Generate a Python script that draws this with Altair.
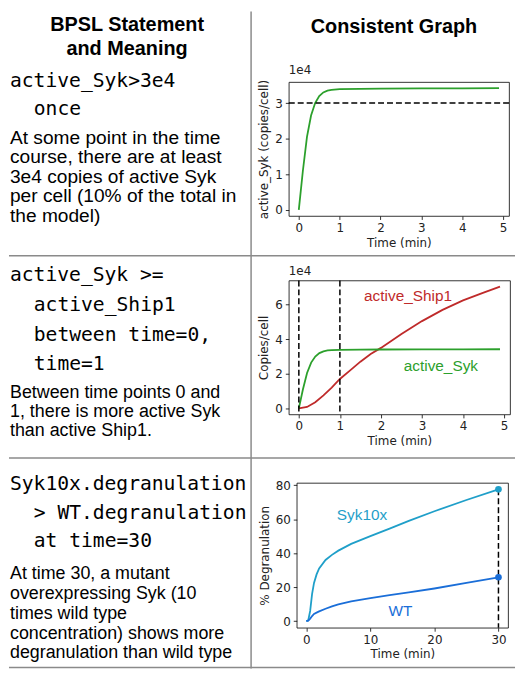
import altair as alt
import pandas as pd

# ---------------- data ----------------
# Panel 1 / 2 : active Syk time course (copies/cell), time in minutes
T_SYK = [0, 0.1, 0.2, 0.3, 0.4, 0.5, 0.6, 0.7, 0.8, 1.0, 1.5, 2.0, 3.0, 4.0, 4.9]
ACTIVE_SYK = [0, 11000, 20500, 26500, 30000, 32000, 33000, 33500, 33700, 33900,
              34000, 34050, 34100, 34150, 34200]
# Panel 2 : active Ship1 time course
T_SHIP = [0, 0.2, 0.4, 0.6, 0.8, 1.0, 1.25, 1.5, 1.75, 2.0, 2.5, 3.0, 3.5, 4.0, 4.5, 4.9]
ACTIVE_SHIP1 = [0, 800, 3500, 7500, 12000, 17000, 22000, 27000, 31500, 35000,
                43000, 50500, 57000, 62500, 67000, 70500]
# Panel 3 : % degranulation
T_DEG = [0, 0.3, 0.6, 0.9, 1.2, 1.6, 2, 3, 4, 5, 7, 10, 13, 16, 20, 25, 30]
SYK10X = [0, 0.5, 6, 16, 22.5, 27.5, 31, 36, 39, 41.5, 45.5, 50, 54.5, 59, 64.7, 71.3, 77.6]
WT = [0, 0.3, 1.5, 3.0, 4.2, 5.0, 5.7, 7.3, 8.7, 9.9, 11.6, 13.6, 15.3, 16.9, 19.2, 22.5, 25.8]

THRESHOLD = 30000          # active_Syk > 3e4
WINDOW = [0, 1]            # between time=0, time=1
T_CHECK = 30               # at time=30

# ---------------- text ----------------
HEAD_LEFT = ["BPSL Statement", "and Meaning"]
HEAD_RIGHT = "Consistent Graph"
STATEMENTS = [
    ["active_Syk>3e4", "once"],
    ["active_Syk >=", "active_Ship1", "between time=0,", "time=1"],
    ["Syk10x.degranulation", "> WT.degranulation", "at time=30"],
]
MEANINGS = [
    ["At some point in the time", "course, there are at least", "3e4 copies of active Syk",
     "per cell (10% of the total in", "the model)"],
    ["Between time points 0 and", "1, there is more active Syk", "than active Ship1."],
    ["At time 30, a mutant", "overexpressing Syk (10", "times wild type",
     "concentration) shows more", "degranulation than wild type"],
]

GREEN = "#2ca02c"
RED = "#bf2a2a"
CYAN = "#1f9fc9"
BLUE = "#1a6ed8"
GRID = "#8a8a8a"

SANS = "Liberation Sans"
MONO = "DejaVu Sans Mono"
MPL = "DejaVu Sans"

ONE = pd.DataFrame({"k": [0]})


def text_block(lines, x, y, font, size, lh, weight="normal", align="left", color="black"):
    return alt.Chart(ONE).mark_text(
        align=align, baseline="alphabetic", font=font, fontSize=size,
        lineHeight=lh, fontWeight=weight, color=color
    ).encode(x=alt.value(x), y=alt.value(y), text=alt.value(lines))


def hrule(y, x0=0, x1=510):
    return alt.Chart(ONE).mark_rule(color=GRID, strokeWidth=1.5).encode(
        x=alt.value(x0), x2=alt.value(x1), y=alt.value(y))


# ---------------- left column (table text + lines) ----------------
LEFT_W, LEFT_H = 282, 662
IND = 24

left_layers = [
    text_block(HEAD_LEFT, 119, 20, SANS, 20, 24, weight="bold", align="center"),
    text_block([HEAD_RIGHT], 388, 22, SANS, 20, 24, weight="bold", align="center"),
    # row 1
    text_block(STATEMENTS[0][:1], 1, 76, MONO, 19.8, 28),
    text_block(STATEMENTS[0][1:], 1 + IND, 76 + 28, MONO, 19.8, 28),
    text_block(MEANINGS[0], 1, 133, SANS, 19.3, 19.8),
    # row 2
    text_block(STATEMENTS[1][:1], 1, 272, MONO, 19.8, 29.8),
    text_block(STATEMENTS[1][1:], 1 + IND, 272 + 29.8, MONO, 19.8, 29.8),
    text_block(MEANINGS[1], 1, 389, SANS, 18, 19.3),
    # row 3
    text_block(STATEMENTS[2][:1], 1, 482, MONO, 19.8, 29),
    text_block(STATEMENTS[2][1:], 1 + IND, 482 + 29, MONO, 19.8, 29),
    text_block(MEANINGS[2], 1, 572, SANS, 18, 20),
    # table lines
    hrule(246), hrule(450), hrule(661),
    alt.Chart(ONE).mark_rule(color=GRID, strokeWidth=1.5).encode(
        x=alt.value(244), y=alt.value(0), y2=alt.value(LEFT_H)),
]
left = alt.layer(*left_layers).properties(width=LEFT_W, height=LEFT_H)


# ---------------- plot helpers ----------------
FS = 12


def axis(title, values, label_expr="format(datum.value, 'd')"):
    return alt.Axis(
        title=title, values=values, tickCount=len(values) + 2,
        grid=False, domain=False, ticks=True,
        tickSize=3.5, tickColor="black", tickWidth=0.8,
        labelFont=MPL, labelFontSize=FS, labelColor="#222", labelPadding=3,
        labelFlush=False, labelOverlap=False, labelExpr=label_expr,
        titleFont=MPL, titleFontSize=FS, titleFontWeight="normal",
        titleColor="#222", titlePadding=4,
    )


FRAME = alt.ViewBackground(stroke="black", strokeWidth=0.8, fill="white")
DASH = [6, 3]

# ---------------- plot 1 ----------------
W1, H1 = 222, 135
x1 = alt.Scale(domain=[-0.245, 5.145], nice=False, zero=False)
y1 = alt.Scale(domain=[-1710, 35910], nice=False, zero=False)
df_syk = pd.DataFrame({"t": T_SYK, "v": ACTIVE_SYK})

p1_line = alt.Chart(df_syk).mark_line(color=GREEN, strokeWidth=1.8).encode(
    x=alt.X("t:Q", scale=x1, axis=axis("Time (min)", [0, 1, 2, 3, 4, 5])),
    y=alt.Y("v:Q", scale=y1, axis=axis("active_Syk (copies/cell)",
                                       [0, 10000, 20000, 30000],
                                       "format(datum.value / 10000, 'd')")),
)
p1_thr = alt.Chart(ONE).mark_rule(color="black", strokeDash=DASH, strokeWidth=1.5).encode(
    y=alt.datum(THRESHOLD), x=alt.value(0), x2=alt.value(W1))

TITLE_1E4 = alt.TitleParams("1e4", anchor="start", frame="group", font=MPL, fontSize=FS,
                            fontWeight="normal", color="#222", offset=2)
p1 = alt.layer(p1_line, p1_thr).properties(width=W1, height=H1, title=TITLE_1E4, view=FRAME)

# ---------------- plot 2 ----------------
W2, H2 = 223, 135
x2 = alt.Scale(domain=[-0.245, 5.145], nice=False, zero=False)
y2 = alt.Scale(domain=[-3525, 74025], nice=False, zero=False)
df_ship = pd.DataFrame({"t": T_SHIP, "v": ACTIVE_SHIP1})

p2_ship = alt.Chart(df_ship).mark_line(color=RED, strokeWidth=1.8).encode(
    x=alt.X("t:Q", scale=x2, axis=axis("Time (min)", [0, 1, 2, 3, 4, 5])),
    y=alt.Y("v:Q", scale=y2, axis=axis("Copies/cell", [0, 20000, 40000, 60000],
                                       "format(datum.value / 10000, 'd')")),
)
p2_syk = alt.Chart(df_syk).mark_line(color=GREEN, strokeWidth=1.8).encode(
    x=alt.X("t:Q", scale=x2), y=alt.Y("v:Q", scale=y2))
p2_win = alt.Chart(pd.DataFrame({"t": WINDOW})).mark_rule(
    color="black", strokeDash=DASH, strokeWidth=1.5).encode(
    x=alt.X("t:Q", scale=x2), y=alt.value(0), y2=alt.value(H2))
p2_lab_ship = alt.Chart(ONE).mark_text(font=SANS, fontSize=15.5, color=RED).encode(
    x=alt.datum(2.66), y=alt.datum(65000), text=alt.value("active_Ship1"))
p2_lab_syk = alt.Chart(ONE).mark_text(font=SANS, fontSize=15.5, color=GREEN).encode(
    x=alt.datum(3.46), y=alt.datum(24400), text=alt.value("active_Syk"))
p2 = alt.layer(p2_ship, p2_syk, p2_win, p2_lab_ship, p2_lab_syk).properties(
    width=W2, height=H2, title=TITLE_1E4, view=FRAME)

# ---------------- plot 3 ----------------
W3, H3 = 213, 146
x3 = alt.Scale(domain=[-1.5, 31.5], nice=False, zero=False)
y3 = alt.Scale(domain=[-3.9, 81.4], nice=False, zero=False)
X3_AXIS = axis("Time (min)", [0, 10, 20, 30])
Y3_AXIS = axis("% Degranulation", [0, 20, 40, 60, 80])
df_s10 = pd.DataFrame({"t": T_DEG, "v": SYK10X})
df_wt = pd.DataFrame({"t": T_DEG, "v": WT})


def deg_layer(df, color):
    line = alt.Chart(df).mark_line(color=color, strokeWidth=1.8).encode(
        x=alt.X("t:Q", scale=x3, axis=X3_AXIS), y=alt.Y("v:Q", scale=y3, axis=Y3_AXIS))
    end = alt.Chart(df.tail(1)).mark_circle(size=45, opacity=1, color=color).encode(
        x=alt.X("t:Q", scale=x3, axis=X3_AXIS), y=alt.Y("v:Q", scale=y3, axis=Y3_AXIS))
    return line, end


s10_line, s10_end = deg_layer(df_s10, CYAN)
wt_line, wt_end = deg_layer(df_wt, BLUE)
p3_rule = alt.Chart(df_s10.tail(1)).mark_rule(
    color="black", strokeDash=DASH, strokeWidth=1.5).encode(
    x=alt.X("t:Q", scale=x3, axis=X3_AXIS), y=alt.Y("v:Q", scale=y3, axis=Y3_AXIS),
    y2=alt.value(H3))
p3_lab_s10 = alt.Chart(ONE).mark_text(font=SANS, fontSize=15.5, color=CYAN).encode(
    x=alt.datum(8.7), y=alt.datum(62.5), text=alt.value("Syk10x"))
p3_lab_wt = alt.Chart(ONE).mark_text(font=SANS, fontSize=15.5, color=BLUE).encode(
    x=alt.datum(14.7), y=alt.datum(6.0), text=alt.value("WT"))
p3 = alt.layer(s10_line, wt_line, p3_rule, s10_end, wt_end, p3_lab_s10, p3_lab_wt).properties(
    width=W3, height=H3, view=FRAME)


# ---------------- layout ----------------
def spacer(w, h):
    return alt.Chart(ONE).mark_text(text=" ").encode(
        x=alt.value(w / 2), y=alt.value(h / 2)).properties(width=w, height=h)


right = alt.vconcat(
    spacer(W2, 71), p1,
    spacer(W2, 65), p2,
    spacer(W2, 69),
    alt.hconcat(spacer(8, H3), p3, spacing=0, bounds="flush"),
    spacing=0, bounds="flush",
)

chart = alt.hconcat(left, right, spacing=0, bounds="flush").properties(
    padding=0, background="white"
).configure_view(stroke=None).configure_axis(labelOverlap=False)

chart.save("out.html", embed_options={"renderer": "svg", "actions": False})
